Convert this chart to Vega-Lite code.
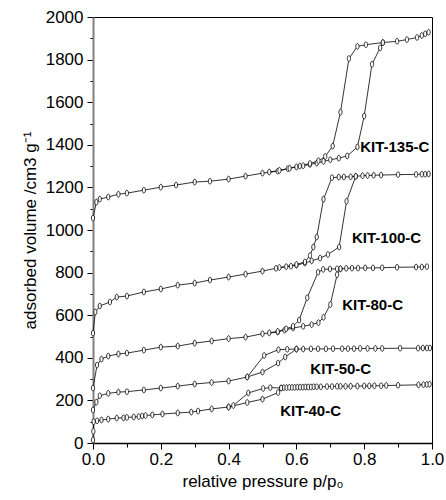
{
  "$schema": "https://vega.github.io/schema/vega-lite/v6.json",
  "autosize": {"type": "none"},
  "width": 339,
  "height": 426,
  "padding": {"left": 93, "top": 17, "right": 14, "bottom": 57},
  "background": "white",
  "config": {
    "font": "Liberation Sans",
    "view": {"stroke": "#000", "strokeWidth": 1},
    "axis": {
      "grid": false,
      "labelColor": "#000",
      "titleColor": "#000",
      "labelFontSize": 17,
      "titleFontSize": 17,
      "titleFontWeight": "normal",
      "tickColor": "#000",
      "labelFlush": false,
      "labelOverlap": false
    }
  },
  "datasets": {
    "isotherms": [
      {"s": "KIT-135-C", "b": "ads", "p": 0, "v": 1056},
      {"s": "KIT-135-C", "b": "ads", "p": 0.01, "v": 1131},
      {"s": "KIT-135-C", "b": "ads", "p": 0.02, "v": 1145},
      {"s": "KIT-135-C", "b": "ads", "p": 0.045, "v": 1155},
      {"s": "KIT-135-C", "b": "ads", "p": 0.075, "v": 1168},
      {"s": "KIT-135-C", "b": "ads", "p": 0.1, "v": 1173},
      {"s": "KIT-135-C", "b": "ads", "p": 0.15, "v": 1187},
      {"s": "KIT-135-C", "b": "ads", "p": 0.2, "v": 1201},
      {"s": "KIT-135-C", "b": "ads", "p": 0.245, "v": 1211},
      {"s": "KIT-135-C", "b": "ads", "p": 0.3, "v": 1225},
      {"s": "KIT-135-C", "b": "ads", "p": 0.345, "v": 1229},
      {"s": "KIT-135-C", "b": "ads", "p": 0.4, "v": 1239},
      {"s": "KIT-135-C", "b": "ads", "p": 0.45, "v": 1253},
      {"s": "KIT-135-C", "b": "ads", "p": 0.5, "v": 1267},
      {"s": "KIT-135-C", "b": "ads", "p": 0.545, "v": 1276},
      {"s": "KIT-135-C", "b": "ads", "p": 0.575, "v": 1288},
      {"s": "KIT-135-C", "b": "ads", "p": 0.6, "v": 1296},
      {"s": "KIT-135-C", "b": "ads", "p": 0.62, "v": 1302},
      {"s": "KIT-135-C", "b": "ads", "p": 0.64, "v": 1308},
      {"s": "KIT-135-C", "b": "ads", "p": 0.66, "v": 1314},
      {"s": "KIT-135-C", "b": "ads", "p": 0.68, "v": 1322},
      {"s": "KIT-135-C", "b": "ads", "p": 0.7, "v": 1330},
      {"s": "KIT-135-C", "b": "ads", "p": 0.725, "v": 1337},
      {"s": "KIT-135-C", "b": "ads", "p": 0.75, "v": 1348},
      {"s": "KIT-135-C", "b": "ads", "p": 0.78, "v": 1390},
      {"s": "KIT-135-C", "b": "ads", "p": 0.8, "v": 1535},
      {"s": "KIT-135-C", "b": "ads", "p": 0.823, "v": 1778},
      {"s": "KIT-135-C", "b": "ads", "p": 0.847, "v": 1855},
      {"s": "KIT-135-C", "b": "ads", "p": 0.855, "v": 1880},
      {"s": "KIT-135-C", "b": "ads", "p": 0.897, "v": 1886},
      {"s": "KIT-135-C", "b": "ads", "p": 0.926, "v": 1894},
      {"s": "KIT-135-C", "b": "ads", "p": 0.956, "v": 1904},
      {"s": "KIT-135-C", "b": "ads", "p": 0.97, "v": 1913},
      {"s": "KIT-135-C", "b": "ads", "p": 0.98, "v": 1921},
      {"s": "KIT-135-C", "b": "ads", "p": 0.99, "v": 1928},
      {"s": "KIT-135-C", "b": "des", "p": 0.855, "v": 1880},
      {"s": "KIT-135-C", "b": "des", "p": 0.805, "v": 1870},
      {"s": "KIT-135-C", "b": "des", "p": 0.78, "v": 1862},
      {"s": "KIT-135-C", "b": "des", "p": 0.755, "v": 1805},
      {"s": "KIT-135-C", "b": "des", "p": 0.73, "v": 1553},
      {"s": "KIT-135-C", "b": "des", "p": 0.707, "v": 1394},
      {"s": "KIT-135-C", "b": "des", "p": 0.685, "v": 1345},
      {"s": "KIT-135-C", "b": "des", "p": 0.665, "v": 1325},
      {"s": "KIT-135-C", "b": "des", "p": 0.64, "v": 1312},
      {"s": "KIT-135-C", "b": "des", "p": 0.61, "v": 1300},
      {"s": "KIT-135-C", "b": "des", "p": 0.58, "v": 1290},
      {"s": "KIT-135-C", "b": "des", "p": 0.55, "v": 1280},
      {"s": "KIT-135-C", "b": "des", "p": 0.52, "v": 1272},

      {"s": "KIT-100-C", "b": "ads", "p": 0, "v": 516},
      {"s": "KIT-100-C", "b": "ads", "p": 0.007, "v": 615},
      {"s": "KIT-100-C", "b": "ads", "p": 0.02, "v": 643},
      {"s": "KIT-100-C", "b": "ads", "p": 0.05, "v": 662},
      {"s": "KIT-100-C", "b": "ads", "p": 0.07, "v": 685},
      {"s": "KIT-100-C", "b": "ads", "p": 0.1, "v": 690},
      {"s": "KIT-100-C", "b": "ads", "p": 0.15, "v": 709},
      {"s": "KIT-100-C", "b": "ads", "p": 0.2, "v": 723},
      {"s": "KIT-100-C", "b": "ads", "p": 0.25, "v": 741},
      {"s": "KIT-100-C", "b": "ads", "p": 0.3, "v": 751},
      {"s": "KIT-100-C", "b": "ads", "p": 0.345, "v": 765},
      {"s": "KIT-100-C", "b": "ads", "p": 0.4, "v": 779},
      {"s": "KIT-100-C", "b": "ads", "p": 0.45, "v": 793},
      {"s": "KIT-100-C", "b": "ads", "p": 0.5, "v": 807},
      {"s": "KIT-100-C", "b": "ads", "p": 0.55, "v": 824},
      {"s": "KIT-100-C", "b": "ads", "p": 0.584, "v": 830},
      {"s": "KIT-100-C", "b": "ads", "p": 0.6, "v": 835},
      {"s": "KIT-100-C", "b": "ads", "p": 0.625, "v": 845},
      {"s": "KIT-100-C", "b": "ads", "p": 0.645, "v": 855},
      {"s": "KIT-100-C", "b": "ads", "p": 0.67, "v": 868},
      {"s": "KIT-100-C", "b": "ads", "p": 0.693, "v": 885},
      {"s": "KIT-100-C", "b": "ads", "p": 0.726, "v": 920},
      {"s": "KIT-100-C", "b": "ads", "p": 0.748, "v": 1135},
      {"s": "KIT-100-C", "b": "ads", "p": 0.775, "v": 1252},
      {"s": "KIT-100-C", "b": "ads", "p": 0.795, "v": 1255},
      {"s": "KIT-100-C", "b": "ads", "p": 0.81, "v": 1256},
      {"s": "KIT-100-C", "b": "ads", "p": 0.828, "v": 1257},
      {"s": "KIT-100-C", "b": "ads", "p": 0.85, "v": 1258},
      {"s": "KIT-100-C", "b": "ads", "p": 0.9, "v": 1260},
      {"s": "KIT-100-C", "b": "ads", "p": 0.953, "v": 1261},
      {"s": "KIT-100-C", "b": "ads", "p": 0.97, "v": 1262},
      {"s": "KIT-100-C", "b": "ads", "p": 0.98, "v": 1262},
      {"s": "KIT-100-C", "b": "ads", "p": 0.99, "v": 1263},
      {"s": "KIT-100-C", "b": "des", "p": 0.775, "v": 1252},
      {"s": "KIT-100-C", "b": "des", "p": 0.76, "v": 1250},
      {"s": "KIT-100-C", "b": "des", "p": 0.74, "v": 1249},
      {"s": "KIT-100-C", "b": "des", "p": 0.725, "v": 1248},
      {"s": "KIT-100-C", "b": "des", "p": 0.705, "v": 1246},
      {"s": "KIT-100-C", "b": "des", "p": 0.68, "v": 1145},
      {"s": "KIT-100-C", "b": "des", "p": 0.66, "v": 967},
      {"s": "KIT-100-C", "b": "des", "p": 0.65, "v": 920},
      {"s": "KIT-100-C", "b": "des", "p": 0.64, "v": 880},
      {"s": "KIT-100-C", "b": "des", "p": 0.625, "v": 850},
      {"s": "KIT-100-C", "b": "des", "p": 0.6, "v": 838},
      {"s": "KIT-100-C", "b": "des", "p": 0.57, "v": 828},
      {"s": "KIT-100-C", "b": "des", "p": 0.54, "v": 820},

      {"s": "KIT-80-C", "b": "ads", "p": 0, "v": 258},
      {"s": "KIT-80-C", "b": "ads", "p": 0.012, "v": 366},
      {"s": "KIT-80-C", "b": "ads", "p": 0.025, "v": 394},
      {"s": "KIT-80-C", "b": "ads", "p": 0.045, "v": 408},
      {"s": "KIT-80-C", "b": "ads", "p": 0.075, "v": 418},
      {"s": "KIT-80-C", "b": "ads", "p": 0.1, "v": 422},
      {"s": "KIT-80-C", "b": "ads", "p": 0.15, "v": 436},
      {"s": "KIT-80-C", "b": "ads", "p": 0.2, "v": 450},
      {"s": "KIT-80-C", "b": "ads", "p": 0.25, "v": 455},
      {"s": "KIT-80-C", "b": "ads", "p": 0.3, "v": 469},
      {"s": "KIT-80-C", "b": "ads", "p": 0.35, "v": 479},
      {"s": "KIT-80-C", "b": "ads", "p": 0.4, "v": 490},
      {"s": "KIT-80-C", "b": "ads", "p": 0.45, "v": 497},
      {"s": "KIT-80-C", "b": "ads", "p": 0.5, "v": 513},
      {"s": "KIT-80-C", "b": "ads", "p": 0.545, "v": 521},
      {"s": "KIT-80-C", "b": "ads", "p": 0.565, "v": 530},
      {"s": "KIT-80-C", "b": "ads", "p": 0.59, "v": 540},
      {"s": "KIT-80-C", "b": "ads", "p": 0.62, "v": 548},
      {"s": "KIT-80-C", "b": "ads", "p": 0.645, "v": 556},
      {"s": "KIT-80-C", "b": "ads", "p": 0.665, "v": 565},
      {"s": "KIT-80-C", "b": "ads", "p": 0.68, "v": 590},
      {"s": "KIT-80-C", "b": "ads", "p": 0.7, "v": 650},
      {"s": "KIT-80-C", "b": "ads", "p": 0.72, "v": 790},
      {"s": "KIT-80-C", "b": "ads", "p": 0.73, "v": 818},
      {"s": "KIT-80-C", "b": "ads", "p": 0.747, "v": 820},
      {"s": "KIT-80-C", "b": "ads", "p": 0.764, "v": 821},
      {"s": "KIT-80-C", "b": "ads", "p": 0.782, "v": 821},
      {"s": "KIT-80-C", "b": "ads", "p": 0.803, "v": 822},
      {"s": "KIT-80-C", "b": "ads", "p": 0.826, "v": 822},
      {"s": "KIT-80-C", "b": "ads", "p": 0.853, "v": 823},
      {"s": "KIT-80-C", "b": "ads", "p": 0.897, "v": 825},
      {"s": "KIT-80-C", "b": "ads", "p": 0.953, "v": 826},
      {"s": "KIT-80-C", "b": "ads", "p": 0.97, "v": 826},
      {"s": "KIT-80-C", "b": "ads", "p": 0.985, "v": 828},
      {"s": "KIT-80-C", "b": "des", "p": 0.73, "v": 818},
      {"s": "KIT-80-C", "b": "des", "p": 0.72, "v": 818},
      {"s": "KIT-80-C", "b": "des", "p": 0.699, "v": 817},
      {"s": "KIT-80-C", "b": "des", "p": 0.679, "v": 815},
      {"s": "KIT-80-C", "b": "des", "p": 0.664, "v": 802},
      {"s": "KIT-80-C", "b": "des", "p": 0.632, "v": 682},
      {"s": "KIT-80-C", "b": "des", "p": 0.608, "v": 577},
      {"s": "KIT-80-C", "b": "des", "p": 0.59, "v": 548},
      {"s": "KIT-80-C", "b": "des", "p": 0.57, "v": 536},
      {"s": "KIT-80-C", "b": "des", "p": 0.545, "v": 524},
      {"s": "KIT-80-C", "b": "des", "p": 0.52, "v": 517},

      {"s": "KIT-50-C", "b": "ads", "p": 0, "v": 155},
      {"s": "KIT-50-C", "b": "ads", "p": 0.01, "v": 192},
      {"s": "KIT-50-C", "b": "ads", "p": 0.02, "v": 222},
      {"s": "KIT-50-C", "b": "ads", "p": 0.045, "v": 233},
      {"s": "KIT-50-C", "b": "ads", "p": 0.075, "v": 239},
      {"s": "KIT-50-C", "b": "ads", "p": 0.1, "v": 241},
      {"s": "KIT-50-C", "b": "ads", "p": 0.15, "v": 249},
      {"s": "KIT-50-C", "b": "ads", "p": 0.2, "v": 258},
      {"s": "KIT-50-C", "b": "ads", "p": 0.25, "v": 267},
      {"s": "KIT-50-C", "b": "ads", "p": 0.3, "v": 277},
      {"s": "KIT-50-C", "b": "ads", "p": 0.35, "v": 284},
      {"s": "KIT-50-C", "b": "ads", "p": 0.4, "v": 291},
      {"s": "KIT-50-C", "b": "ads", "p": 0.455, "v": 310},
      {"s": "KIT-50-C", "b": "ads", "p": 0.5, "v": 333},
      {"s": "KIT-50-C", "b": "ads", "p": 0.546, "v": 375},
      {"s": "KIT-50-C", "b": "ads", "p": 0.567, "v": 404},
      {"s": "KIT-50-C", "b": "ads", "p": 0.6, "v": 441},
      {"s": "KIT-50-C", "b": "ads", "p": 0.62, "v": 441},
      {"s": "KIT-50-C", "b": "ads", "p": 0.643, "v": 442},
      {"s": "KIT-50-C", "b": "ads", "p": 0.664, "v": 442},
      {"s": "KIT-50-C", "b": "ads", "p": 0.687, "v": 442},
      {"s": "KIT-50-C", "b": "ads", "p": 0.708, "v": 443},
      {"s": "KIT-50-C", "b": "ads", "p": 0.735, "v": 443},
      {"s": "KIT-50-C", "b": "ads", "p": 0.752, "v": 443},
      {"s": "KIT-50-C", "b": "ads", "p": 0.77, "v": 443},
      {"s": "KIT-50-C", "b": "ads", "p": 0.788, "v": 444},
      {"s": "KIT-50-C", "b": "ads", "p": 0.81, "v": 444},
      {"s": "KIT-50-C", "b": "ads", "p": 0.833, "v": 444},
      {"s": "KIT-50-C", "b": "ads", "p": 0.853, "v": 444},
      {"s": "KIT-50-C", "b": "ads", "p": 0.906, "v": 445},
      {"s": "KIT-50-C", "b": "ads", "p": 0.959, "v": 445},
      {"s": "KIT-50-C", "b": "ads", "p": 0.973, "v": 446},
      {"s": "KIT-50-C", "b": "ads", "p": 0.985, "v": 446},
      {"s": "KIT-50-C", "b": "ads", "p": 0.994, "v": 446},
      {"s": "KIT-50-C", "b": "des", "p": 0.6, "v": 441},
      {"s": "KIT-50-C", "b": "des", "p": 0.573, "v": 440},
      {"s": "KIT-50-C", "b": "des", "p": 0.547, "v": 438},
      {"s": "KIT-50-C", "b": "des", "p": 0.505, "v": 411},
      {"s": "KIT-50-C", "b": "des", "p": 0.455, "v": 310},

      {"s": "KIT-40-C", "b": "ads", "p": 0, "v": 14},
      {"s": "KIT-40-C", "b": "ads", "p": 0.001, "v": 55},
      {"s": "KIT-40-C", "b": "ads", "p": 0.002, "v": 100},
      {"s": "KIT-40-C", "b": "ads", "p": 0.012, "v": 104},
      {"s": "KIT-40-C", "b": "ads", "p": 0.025, "v": 108},
      {"s": "KIT-40-C", "b": "ads", "p": 0.045, "v": 112},
      {"s": "KIT-40-C", "b": "ads", "p": 0.07, "v": 117},
      {"s": "KIT-40-C", "b": "ads", "p": 0.09, "v": 118},
      {"s": "KIT-40-C", "b": "ads", "p": 0.1, "v": 120},
      {"s": "KIT-40-C", "b": "ads", "p": 0.12, "v": 122},
      {"s": "KIT-40-C", "b": "ads", "p": 0.135, "v": 124},
      {"s": "KIT-40-C", "b": "ads", "p": 0.145, "v": 127},
      {"s": "KIT-40-C", "b": "ads", "p": 0.155, "v": 129},
      {"s": "KIT-40-C", "b": "ads", "p": 0.175, "v": 132},
      {"s": "KIT-40-C", "b": "ads", "p": 0.205, "v": 136},
      {"s": "KIT-40-C", "b": "ads", "p": 0.25, "v": 141},
      {"s": "KIT-40-C", "b": "ads", "p": 0.29, "v": 145},
      {"s": "KIT-40-C", "b": "ads", "p": 0.31, "v": 150},
      {"s": "KIT-40-C", "b": "ads", "p": 0.35, "v": 160},
      {"s": "KIT-40-C", "b": "ads", "p": 0.4, "v": 169},
      {"s": "KIT-40-C", "b": "ads", "p": 0.455, "v": 190},
      {"s": "KIT-40-C", "b": "ads", "p": 0.5, "v": 206},
      {"s": "KIT-40-C", "b": "ads", "p": 0.546, "v": 237},
      {"s": "KIT-40-C", "b": "ads", "p": 0.555, "v": 258},
      {"s": "KIT-40-C", "b": "ads", "p": 0.563, "v": 260},
      {"s": "KIT-40-C", "b": "ads", "p": 0.571, "v": 260},
      {"s": "KIT-40-C", "b": "ads", "p": 0.579, "v": 261},
      {"s": "KIT-40-C", "b": "ads", "p": 0.587, "v": 261},
      {"s": "KIT-40-C", "b": "ads", "p": 0.595, "v": 261},
      {"s": "KIT-40-C", "b": "ads", "p": 0.603, "v": 262},
      {"s": "KIT-40-C", "b": "ads", "p": 0.611, "v": 262},
      {"s": "KIT-40-C", "b": "ads", "p": 0.619, "v": 262},
      {"s": "KIT-40-C", "b": "ads", "p": 0.627, "v": 263},
      {"s": "KIT-40-C", "b": "ads", "p": 0.635, "v": 263},
      {"s": "KIT-40-C", "b": "ads", "p": 0.643, "v": 263},
      {"s": "KIT-40-C", "b": "ads", "p": 0.651, "v": 264},
      {"s": "KIT-40-C", "b": "ads", "p": 0.66, "v": 264},
      {"s": "KIT-40-C", "b": "ads", "p": 0.672, "v": 264},
      {"s": "KIT-40-C", "b": "ads", "p": 0.69, "v": 265},
      {"s": "KIT-40-C", "b": "ads", "p": 0.705, "v": 265},
      {"s": "KIT-40-C", "b": "ads", "p": 0.72, "v": 266},
      {"s": "KIT-40-C", "b": "ads", "p": 0.73, "v": 266},
      {"s": "KIT-40-C", "b": "ads", "p": 0.745, "v": 266},
      {"s": "KIT-40-C", "b": "ads", "p": 0.76, "v": 267},
      {"s": "KIT-40-C", "b": "ads", "p": 0.78, "v": 267},
      {"s": "KIT-40-C", "b": "ads", "p": 0.8, "v": 268},
      {"s": "KIT-40-C", "b": "ads", "p": 0.815, "v": 268},
      {"s": "KIT-40-C", "b": "ads", "p": 0.83, "v": 269},
      {"s": "KIT-40-C", "b": "ads", "p": 0.85, "v": 269},
      {"s": "KIT-40-C", "b": "ads", "p": 0.865, "v": 270},
      {"s": "KIT-40-C", "b": "ads", "p": 0.9, "v": 271},
      {"s": "KIT-40-C", "b": "ads", "p": 0.96, "v": 273},
      {"s": "KIT-40-C", "b": "ads", "p": 0.975, "v": 274},
      {"s": "KIT-40-C", "b": "ads", "p": 0.985, "v": 275},
      {"s": "KIT-40-C", "b": "ads", "p": 0.993, "v": 276},
      {"s": "KIT-40-C", "b": "des", "p": 0.555, "v": 258},
      {"s": "KIT-40-C", "b": "des", "p": 0.523, "v": 260},
      {"s": "KIT-40-C", "b": "des", "p": 0.502, "v": 256},
      {"s": "KIT-40-C", "b": "des", "p": 0.458, "v": 235},
      {"s": "KIT-40-C", "b": "des", "p": 0.414, "v": 176},
      {"s": "KIT-40-C", "b": "des", "p": 0.4, "v": 169}
    ],
    "names": [
      {"s": "KIT-135-C", "p": 0.788, "v": 1389},
      {"s": "KIT-100-C", "p": 0.764, "v": 964},
      {"s": "KIT-80-C", "p": 0.735, "v": 650},
      {"s": "KIT-50-C", "p": 0.641, "v": 347},
      {"s": "KIT-40-C", "p": 0.552, "v": 148}
    ]
  },
  "encoding": {
    "x": {
      "field": "p",
      "type": "quantitative",
      "scale": {"domain": [0, 1], "nice": false, "zero": false},
      "axis": {
        "title": "relative pressure p/p₀",
        "values": [0, 0.1, 0.2, 0.3, 0.4, 0.5, 0.6, 0.7, 0.8, 0.9, 1],
        "format": ".1f",
        "labelExpr": "round(datum.value * 10) % 2 === 0 ? datum.label : ''",
        "tickSize": {"condition": {"test": "round(datum.value * 10) % 2 === 0", "value": 6}, "value": 4},
        "domainColor": "#000",
        "domainWidth": 1.5,
        "labelPadding": 2,
        "titlePadding": 6
      }
    },
    "y": {
      "field": "v",
      "type": "quantitative",
      "scale": {"domain": [0, 2000], "nice": false},
      "axis": {
        "title": "adsorbed volume /cm3 g⁻¹",
        "values": [0, 100, 200, 300, 400, 500, 600, 700, 800, 900, 1000, 1100, 1200, 1300, 1400, 1500, 1600, 1700, 1800, 1900, 2000],
        "labelExpr": "datum.value % 200 === 0 ? datum.label : ''",
        "format": "d",
        "tickSize": {"condition": {"test": "datum.value % 200 === 0", "value": 6}, "value": 3},
        "domainColor": "#808080",
        "domainWidth": 2,
        "labelPadding": 4,
        "titlePadding": 6
      }
    }
  },
  "layer": [
    {
      "data": {"name": "isotherms"},
      "mark": {"type": "line", "color": "#000", "strokeWidth": 0.8},
      "encoding": {
        "detail": [{"field": "s"}, {"field": "b"}],
        "order": {"field": "p", "type": "quantitative"}
      }
    },
    {
      "data": {"name": "isotherms"},
      "mark": {
        "type": "point",
        "shape": "M0,-1A0.55,1,0,1,1,0,1A0.55,1,0,1,1,0,-1Z",
        "size": 34,
        "filled": false,
        "fill": "white",
        "fillOpacity": 1,
        "stroke": "#000",
        "strokeWidth": 0.8,
        "opacity": 1
      }
    },
    {
      "data": {"name": "names"},
      "mark": {"type": "text", "align": "left", "baseline": "middle", "fontSize": 15, "fontWeight": "bold", "color": "#000"},
      "encoding": {"text": {"field": "s"}}
    }
  ]
}
